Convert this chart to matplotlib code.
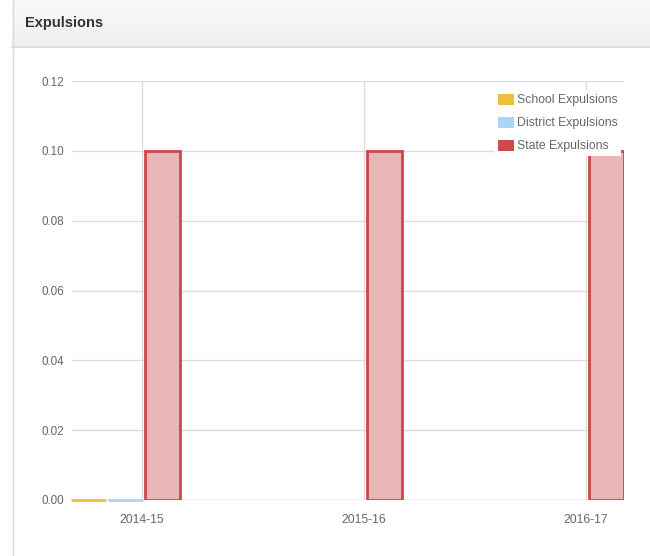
import matplotlib.pyplot as plt
import numpy as np
from matplotlib.patches import Patch, Rectangle
from matplotlib.lines import Line2D

plt.rcParams["font.family"] = ["Liberation Sans", "DejaVu Sans"]

years = ["2014-15", "2015-16", "2016-17"]
school = [0.0, np.nan, np.nan]
district = [0.0, np.nan, np.nan]
state = [0.10, 0.10, 0.10]
yticks = [0.00, 0.02, 0.04, 0.06, 0.08, 0.10, 0.12]

W, H = 650, 556
fig = plt.figure(figsize=(W / 100, H / 100), dpi=100)

# panel header, light gradient top to bottom
grad = np.linspace(0, 1, 50).reshape(-1, 1)
hax = fig.add_axes([12 / W, 1 - 46 / H, 1 - 12 / W, 46 / H], zorder=0)
hax.imshow(grad, aspect="auto", cmap=plt.matplotlib.colors.LinearSegmentedColormap.from_list(
    "hdr", ["#fafafa", "#efefef"]), extent=[0, 1, 0, 1], origin="upper")
hax.axis("off")
fig.lines.append(Line2D([12 / W, 1], [1 - 46.5 / H] * 2, transform=fig.transFigure,
                        color="#dcdcdc", lw=1.5))
fig.lines.append(Line2D([12.5 / W] * 2, [0, 1], transform=fig.transFigure,
                        color="#dcdcdc", lw=1))
fig.text(25 / W, 1 - 23 / H, "Expulsions", fontsize=10.5, fontweight="bold",
         color="#333333", va="center", ha="left", zorder=5)

ax = fig.add_axes([72 / W, 56 / H, (624 - 72) / W, (500 - 81) / H])
x = np.arange(len(years))
w = 0.158

ax.axhline(0, color="#dddddd", lw=1, zorder=1)
ax.bar(x - 0.24, school, w, color="#eec03f", edgecolor="#eec03f", linewidth=2,
       zorder=3, clip_on=False)
ax.bar(x - 0.074, district, w, color="#abd5f5", edgecolor="#abd5f5", linewidth=2,
       zorder=3, clip_on=False)
ax.bar(x + 0.092, state, w, color="#e8b6b6", edgecolor="#d04646", linewidth=2, zorder=3)

ax.set_xlim(-0.315, 2.171)
ax.set_ylim(0, 0.12)
ax.set_yticks(yticks)
ax.set_yticklabels([f"{v:.2f}" for v in yticks])
ax.set_xticks(x)
ax.set_xticklabels(years)
ax.grid(True, color="#dddddd", lw=1, zorder=0)
ax.set_axisbelow(True)
for s in ax.spines.values():
    s.set_visible(False)
ax.tick_params(length=0, labelsize=8.4, colors="#666666", pad=6)
ax.tick_params(axis="x", labelsize=8.7, pad=10)

handles = [Patch(facecolor="#eec03f", edgecolor="none", label="School Expulsions"),
           Patch(facecolor="#abd5f5", edgecolor="none", label="District Expulsions"),
           Patch(facecolor="#cf4a4a", edgecolor="none", label="State Expulsions")]
leg = ax.legend(handles=handles, loc="upper right", bbox_to_anchor=(621 / W, 1 - 90 / H),
                bbox_transform=fig.transFigure, frameon=True, fancybox=False,
                fontsize=8.8, handlelength=1.3, handleheight=1.0, handletextpad=0.25,
                labelspacing=0.85, borderpad=0.3, borderaxespad=0)
leg.get_frame().set_facecolor("white")
leg.get_frame().set_edgecolor("none")
leg.get_frame().set_alpha(1)
for t in leg.get_texts():
    t.set_color("#666666")

fig.savefig("out.png", dpi=100)
